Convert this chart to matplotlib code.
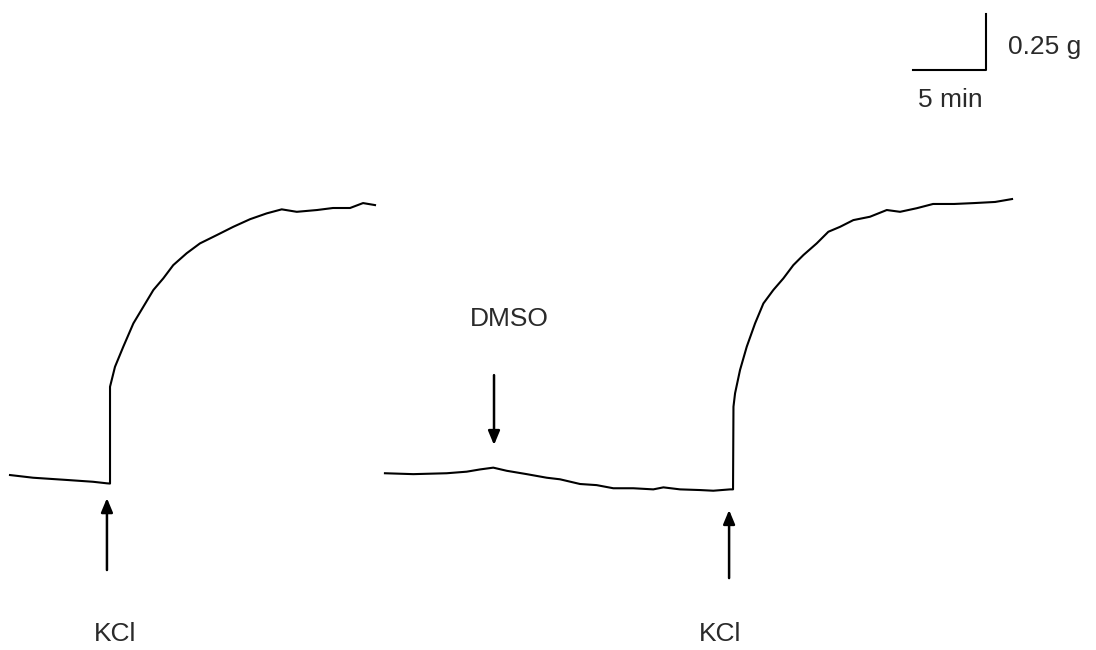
import matplotlib
matplotlib.use("Agg")
import matplotlib.pyplot as plt

# Trace 1 (time in min, tension in g)
t1 = [0.00, 1.58, 3.90, 5.68, 6.64, 6.85, 6.85, 7.19, 7.76, 8.45, 9.13, 9.82, 10.50,
      11.18, 12.10, 13.01, 14.16, 15.29, 16.44, 17.58, 18.61, 19.64, 21.03, 22.12,
      23.29, 24.18, 25.00]
g1 = [0.067, 0.055, 0.045, 0.037, 0.030, 0.029, 0.461, 0.550, 0.640, 0.744, 0.818, 0.893,
      0.945, 1.004, 1.057, 1.101, 1.138, 1.175, 1.209, 1.235, 1.253, 1.242, 1.250, 1.259,
      1.259, 1.281, 1.272]

# Trace 2
t2 = [25.68, 27.62, 29.91, 31.28, 32.19, 33.10, 34.02, 35.39, 36.76, 37.67, 39.04, 40.18,
      41.32, 42.69, 44.06, 44.75, 45.89, 47.26, 48.17, 49.32, 49.52, 49.55, 49.66, 50.00,
      50.46, 51.03, 51.60, 52.28, 52.97, 53.65, 54.34, 55.25, 56.05, 56.85, 57.76, 58.90,
      60.05, 60.96, 62.10, 63.22, 64.66, 66.03, 67.47, 68.63]
g2 = [0.075, 0.071, 0.075, 0.082, 0.092, 0.100, 0.086, 0.071, 0.055, 0.048, 0.027, 0.022,
      0.008, 0.008, 0.003, 0.012, 0.003, 0.000, -0.003, 0.003, 0.003, 0.372, 0.432, 0.536,
      0.640, 0.744, 0.833, 0.893, 0.945, 1.004, 1.049, 1.101, 1.153, 1.175, 1.205, 1.220,
      1.250, 1.242, 1.258, 1.277, 1.277, 1.281, 1.286, 1.299]

# Event markers
kcl_times = [6.64, 49.25]
kcl_labels = ["KCl", "KCl"]
dmso_time = 33.15
dmso_label = "DMSO"

# Scale bar
scale_min = 5
scale_g = 0.25

plt.rcParams['font.family'] = ['Liberation Sans', 'DejaVu Sans']
TXT = '#2a2a2a'
FS = 19

fig = plt.figure(figsize=(10.96, 6.50), dpi=100)
ax = fig.add_axes([0, 0, 1, 1])
ax.set_xlim(-0.685, 74.38)
ax.set_ylim(-0.714, 2.1875)
ax.axis('off')

ax.plot(t1, g1, color='black', lw=1.5, solid_joinstyle='round')
ax.plot(t2, g2, color='black', lw=1.5, solid_joinstyle='round')

aprops = dict(arrowstyle='-|>,head_length=0.6,head_width=0.25', lw=1.8,
              color='black', mutation_scale=14, shrinkA=0, shrinkB=0)

# KCl arrows
kcl_tips = [-0.036, -0.089]
kcl_tails = [-0.357, -0.393]
kcl_text_x = [7.2, 48.6]
for t, tip, tail, tx, lab in zip(kcl_times, kcl_tips, kcl_tails, kcl_text_x, kcl_labels):
    ax.annotate('', xy=(t, tip), xytext=(t, tail), arrowprops=aprops)
    ax.text(tx, -0.643, lab, ha='center', va='center', fontsize=FS, color=TXT)

# DMSO arrow
ax.annotate('', xy=(dmso_time, 0.201), xytext=(dmso_time, 0.513), arrowprops=aprops)
ax.text(34.2, 0.765, dmso_label, ha='center', va='center', fontsize=FS, color=TXT)

# Scale bar
sb_t0 = 61.85
sb_g0 = 1.875
ax.plot([sb_t0, sb_t0 + scale_min, sb_t0 + scale_min],
        [sb_g0, sb_g0, sb_g0 + scale_g], color='black', lw=1.5)
ax.text(68.36, 1.978, f"{scale_g} g", ha='left', va='center', fontsize=FS, color=TXT)
ax.text(64.4, 1.741, f"{scale_min} min", ha='center', va='center', fontsize=FS, color=TXT)

fig.savefig('out.png', dpi=100, facecolor='white')
